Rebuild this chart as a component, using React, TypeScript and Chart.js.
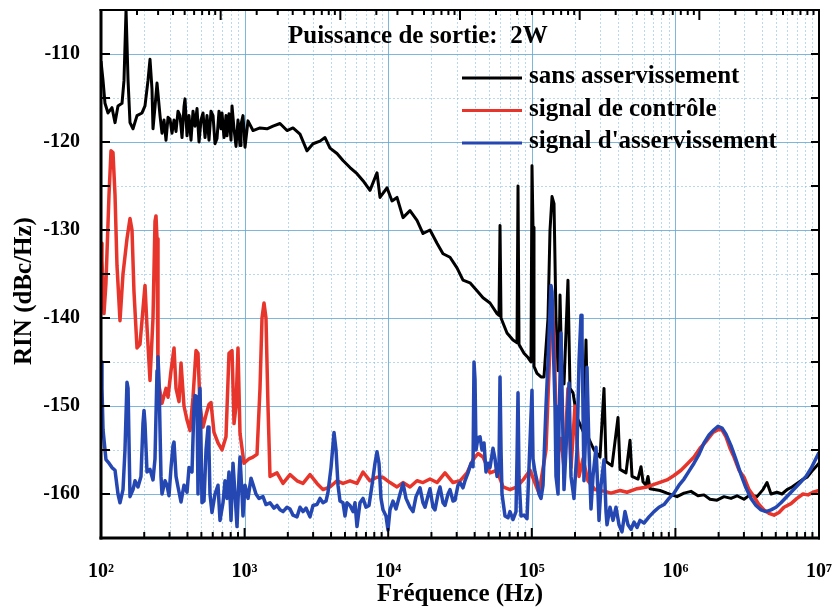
import React, { useEffect, useRef } from "react";
import { Chart, registerables } from "chart.js";

Chart.register(...registerables);

const FONT = '"Liberation Serif", "Times New Roman", Times, serif';

// ---- sans asservissement (black) ----
const blackFreq = [
  100, 103.3, 106.6, 111.9, 119.3, 125.2, 131.3, 140.1, 144.6, 149.4,
  154.3, 159.2, 167.1, 178.1, 193, 202.5, 212.5, 219.4, 226.5, 230.2,
  237.7, 245.5,
  257.6, 265.9, 274.6, 283.6, 292.9, 302.4, 312.2, 322.5, 333.0, 343.8,
  354.9, 366.6, 378.4, 384.6, 397.2, 410.1, 423.4, 437.3, 451.4, 466.3,
  481.4, 497.1, 513.3, 530.2, 547.3, 565.0, 583.4, 602.7, 622.2, 642.6,
  663.3, 685.1, 696.1, 718.7, 742.1, 754.2, 778.6, 804.2, 817.3, 843.9,
  871.4, 899.5, 929, 943.9, 974.7, 1006.5, 1056,
  1144, 1280, 1432, 1577, 1764, 1974,
  2173, 2431, 2720, 2995, 3350, 3630, 3933, 4400, 4844, 5420,
  6063, 6677, 7469, 8356, 8768, 9808, 10630, 11515, 12682, 14186,
  15873, 17472, 19549, 21871, 24077, 26937, 30134, 33180, 37116, 41530,
  45725, 51163, 57253, 59111, 60070, 61043, 67190, 73960, 78886, 80160,
  81460, 88240, 94080, 98720, 100320, 101950, 103590, 108700, 115900, 121600,
  129700, 133900, 138300, 142800, 147400, 152300, 154700, 157200, 162300, 167600,
  178600, 184500, 193600, 206400, 230900, 238400, 246200, 271200, 298500, 318300,
  328700, 361800, 398400, 411400, 452900, 483000, 498800, 549100, 576200, 594900,
  624200, 644600, 665600, 781400, 874100, 1026000, 1148000, 1284000, 1437000, 1582000,
  1742000, 1949000, 2180000, 2439000, 2685000, 3004000, 3307000, 3700000, 4074000, 4345000,
  4632000, 5099000, 5524000, 5987000, 6486000, 7029000, 7614000, 8250000, 8940000, 10000000,
];
const blackRin = [
  -110.8, -113, -115.6, -116.7, -116.1, -117.8, -115.9, -115.6, -113, -105,
  -113, -117.8, -118.5, -117, -116.7, -115.9, -113, -110.6, -114, -118.5,
  -116, -113.3,
  -117, -119, -117.5, -119.8, -117.2, -117.4, -119, -117.5, -118.8, -116.5,
  -117, -119.5, -116, -115.1, -119.3, -117, -119.8, -116.5, -118.2, -116.2,
  -120, -117.5, -116.7, -119.5, -117, -119.8, -116.5, -117, -120.2, -119.6,
  -116.5, -118.5, -116.7, -119.5, -117, -119.3, -116.8, -119.8, -115.9, -118.5,
  -120.5, -117.5, -120.4, -118, -117, -120.6, -117.6,
  -118.7, -118.4, -118.5, -118.2, -117.9, -118.7,
  -118.4, -119.1, -121, -120.2, -119.9, -119.5, -120.7, -121.3, -122.1, -122.9,
  -123.6, -124.4, -125.5, -123.5, -126.3, -125.2, -126.7, -126.3, -128.6, -127.8,
  -128.9, -130.4, -130, -131.5, -132.7, -133.1, -134.3, -135.7, -136, -136.9,
  -137.7, -138.3, -139.5, -139.7, -129.5, -140, -141.7, -142.5, -142.8, -125,
  -143, -144, -144.5, -145, -122.7, -129.7, -145.5, -146.3, -146.7, -146.7,
  -140, -130, -126.2, -127, -140, -146, -145, -137.4, -147, -147.5,
  -135.7, -148, -148.5, -151.3, -153.1, -142.5, -153.5, -155, -155.8, -148,
  -156.3, -156.8, -151.3, -157.2, -157.6, -153.9, -158, -158.3, -156.9, -158.6,
  -159, -158, -159.4, -159.6, -159.9, -160.3, -159.9, -159.7, -160.2, -160.1,
  -160.6, -160.7, -160.3, -160.5, -160.2, -160.6, -160.1, -160.3, -159.5, -158.7,
  -160, -159.8, -160, -159.5, -159.2, -158.8, -158.4, -158.1, -157.4, -156.5,
];

// ---- signal de contrôle (red) ----
const redFreq = [
  100, 101.6, 104.9, 108.3, 113.7, 117.4, 121.2, 125.2, 129.2, 135.6,
  142.3, 151.7, 159.2, 164.4, 169.7, 178.1, 186.8, 196, 202.5, 209.1,
  219.4, 230.2, 237.7, 241.5, 245.5, 249.4, 265.9, 283.6, 292.9, 307.3,
  322.5, 333, 349.3, 360.7, 378.4, 397.2, 416.7, 437.3, 458.8, 473.7,
  489.2, 513.3, 538.8, 565, 583.4, 612.1, 652.8, 696.1, 742.1, 778.6,
  817.3, 843.9, 871.4, 899.5, 929, 990.4, 1073, 1144, 1220, 1280,
  1322, 1365, 1409, 1455, 1503, 1681, 1851, 2071, 2317, 2551,
  2854, 3193, 3516, 3933, 4400, 4844, 5420, 6063, 6677, 7469,
  8356, 9200, 10292, 11515, 12682, 14186, 15873, 17472, 19549, 21871,
  24860, 28270, 31623, 35380, 38960, 42210, 45725, 51163, 57253, 63010,
  70500, 78886, 86840, 97160, 112200, 125600, 133900, 138300, 142800, 149800,
  159700, 167600, 178600, 187500, 199900, 213200, 227300, 246200, 275500, 323400,
  356000, 411400, 460300, 540400, 634200, 744600, 874100, 977900, 1094000, 1223000,
  1348000, 1484000, 1660000, 1827000, 1981000, 2111000, 2251000, 2400000, 2559000, 2773000,
  3004000, 3254000, 3527000, 3821000, 4140000, 4486000, 4861000, 5266000, 5706000, 6383000,
  7029000, 7737000, 8383000, 9083000, 10000000,
];
const redRin = [
  -131.5, -133.5, -139.5, -136, -126, -121, -121.2, -126, -134, -140.3,
  -135, -131, -128.7, -130, -137, -143.4, -143, -139, -136.3, -141,
  -147.1, -140, -129, -128.4, -131, -147, -149.7, -148, -149, -146,
  -143.4, -148, -149.5, -145.1, -150, -151.6, -152.8, -149, -143.7, -144,
  -150, -152.4, -151, -149.8, -149.6, -153, -154.2, -155, -153.5, -144,
  -143.7, -152, -150, -143.4, -153.1, -156.5, -156, -155.8, -155.5, -148,
  -140, -138.3, -140, -150, -158, -157.6, -158.8, -157.8, -158.5, -158.8,
  -157.8, -158.8, -159.5, -159.2, -158.5, -158.8, -158.5, -158.8, -157.5, -158.5,
  -158.1, -158.1, -158.7, -159.2, -158.7, -159.2, -158.5, -158.7, -158.3, -158.7,
  -157.6, -158.7, -158.5, -157.6, -156.1, -155.4, -155.8, -157.6, -157.3, -159.2,
  -159.5, -159.2, -158.4, -157.3, -159.9, -155, -143, -138, -142, -156,
  -153.7, -157, -148, -157, -150, -158, -156, -158.5, -159.5, -159.7,
  -159.9, -159.6, -159.8, -159.4, -159.2, -158.8, -158.4, -157.9, -157.3, -156.5,
  -155.8, -154.8, -153.9, -153, -152.7, -152.7, -153.5, -154.8, -155.8, -157.3,
  -158.1, -159.5, -160.3, -161.2, -161.8, -162.2, -162.4, -162.1, -161.5, -161.1,
  -160.5, -160, -160.1, -159.8, -159.6,
];

// ---- signal d'asservissement (blue) ----
const blueFreq = [
  100, 101.6, 103.3, 108.3, 113.7, 119.3, 125.2, 131.3, 135.6, 142.3,
  146.9, 151.7, 154.3, 159.2, 167.1, 172.5, 180.9, 189.9, 196, 199.3,
  202.5, 209.1, 219.4, 230.2, 237.7, 245.5, 249.4, 253.4, 261.7, 265.9,
  279.1, 288.2, 297.5, 307.3, 317.3, 322.5, 333, 343.8, 360.7, 378.4,
  397.2, 410.1, 430.2, 444.2, 451.4, 466.3, 473.7, 481.4, 489.2, 497.1,
  505.1, 521.6, 538.8, 556.3, 565, 574.1, 592.9, 622.2, 652.8, 674.2,
  707.3, 730.3, 754.2, 778.6, 804.2, 830.4, 857.5, 885.3, 914.2, 929,
  959.2, 974.7, 1006.5, 1056, 1108, 1144, 1200, 1260, 1343, 1409,
  1503, 1602, 1681, 1764, 1851, 1974, 2071, 2173, 2317, 2431,
  2551, 2677, 2854, 2995, 3193, 3350, 3516, 3689, 3809, 3998,
  4195, 4331, 4472, 4617, 4844, 5002, 5165, 5420, 5687, 5871,
  6063, 6364, 6677, 7004, 7350, 7712, 8092, 8356, 8628, 8910,
  9200, 9652, 9967, 10292, 10800, 11330, 12084, 12682, 13305, 14186,
  14883, 15616, 16656, 17472, 18044, 18932, 19549, 20512, 21180, 22230,
  22950, 24077, 24860, 26090, 26937, 28270, 29190, 30630, 31623, 33180,
  34260, 35960, 37730, 38960, 39590, 40230, 40880, 42210, 43590, 45010,
  46480, 47970, 49550, 51163, 53690, 55440, 57253, 59111, 60070, 61043,
  62020, 65080, 68280, 70500, 73960, 77620, 78886, 80160, 81460, 84100,
  88240, 92600, 95610, 100320, 101950, 105270, 108700, 112200, 115900, 119700,
  125600, 129700, 133900, 136100, 138300, 140500, 145100, 147400, 152300, 154700,
  159700, 162300, 167600, 173000, 181600, 187500, 196700, 206400, 213200, 220100,
  223600, 230900, 238400, 242300, 250200, 258400, 266800, 280000, 289100, 293800,
  303400, 318300, 328700, 334000, 350400, 367700, 385900, 404800, 424800, 445700,
  467700, 490800, 514900, 540400, 567000, 604500, 655000, 709600, 768900, 833000,
  902500, 977900, 1060000, 1148000, 1244000, 1348000, 1460000, 1582000, 1714000, 1857000,
  1981000, 2111000, 2251000, 2439000, 2642000, 2863000, 3101000, 3361000, 3641000, 3945000,
  4275000, 4632000, 5019000, 5437000, 5891000, 6383000, 6917000, 7494000, 8121000, 8799000,
  9378000, 10000000,
];
const blueRin = [
  -145, -148, -152.7, -156.1, -156.5, -157, -157.3, -160, -161, -159.5,
  -155, -147.3, -148, -160.3, -159.5, -158.5, -159.2, -158, -152, -150.5,
  -152, -157.5, -157.2, -158.4, -156, -146, -144.4, -147, -158, -160,
  -158.5, -159, -160.2, -157, -154.5, -154.1, -158, -159.2, -160.9, -159,
  -159.8, -157, -157.5, -150, -148.8, -149, -160, -149.5, -148, -154,
  -161, -160.8, -155, -152.4, -155, -160, -162.1, -160, -159, -163,
  -161, -158.5, -160.5, -157.5, -163, -156.5, -160, -163.7, -158, -155.8,
  -160, -162.5, -159, -160.5, -158.2, -158.9, -160, -160.5, -160.3, -161.2,
  -161, -161.6, -161.3, -161.8, -162, -161.5, -161.7, -162.4, -162.6, -161.5,
  -162, -161.6, -162.6, -161.3, -161.2, -160.5, -161, -160.8, -159.8, -157,
  -153, -155, -159, -160.8, -161, -162.5, -161, -161.3, -162, -161,
  -163.7, -161, -160.5, -161.5, -161.3, -159, -156.5, -155.2, -156.5, -160.5,
  -161.8, -162.5, -164.1, -161.8, -160.8, -161.7, -160, -158.8, -160.5, -161.5,
  -162, -160.3, -159.3, -161, -161.5, -160.2, -159.4, -161.5, -161.8, -160,
  -159.2, -161, -161.3, -160, -159.5, -160.8, -160.7, -159, -158.7, -159.3,
  -158.5, -157.6, -156.5, -156.9, -145, -147, -155, -153.6, -153.5, -155,
  -154.2, -157.5, -156.5, -157, -154.8, -156, -158, -157, -146.7, -155,
  -160, -162.5, -162.7, -162, -162.9, -162, -156, -148.5, -158, -162.5,
  -162.4, -162.8, -157, -148.2, -156, -157.5, -158.5, -160, -160.5, -159,
  -150, -145, -139, -136.3, -137, -142, -150, -158, -160, -152,
  -141.7, -148, -159.5, -155, -147.4, -158, -160.5, -155, -145, -139.7,
  -142, -158.5, -152, -145.6, -155, -161.7, -158, -154.7, -160, -163,
  -159, -156.1, -162, -163.5, -161.5, -163, -161.5, -163.5, -164.3, -162,
  -163.5, -164, -163.2, -163.8, -163, -163.3, -162.6, -162, -161.5, -161.2,
  -160.5, -159.9, -159, -158.3, -157.4, -156.5, -155.5, -154.2, -153.3, -152.7,
  -152.3, -152.5, -153.2, -154.5, -156.1, -157.8, -159.3, -160.5, -161.3, -161.8,
  -162, -161.8, -161.5, -161, -160.4, -159.8, -159.2, -158.6, -158, -157.1,
  -156.2, -155.3,
];

const seriesNames = ["sans asservissement", "signal de contrôle", "signal d'asservissement"];
const seriesColors = ["#000000", "#e8352b", "#2447b2"];
const chartTitle = "Puissance de sortie:  2W";
const xAxisTitle = "Fréquence (Hz)";
const yAxisTitle = "RIN (dBc/Hz)";

const xDecades = [1e2, 1e3, 1e4, 1e5, 1e6, 1e7];
const xDecadeLabels = ["10²", "10³", "10⁴", "10⁵", "10⁶", "10⁷"];
const topDecades = [1e1, 1e2, 1e3, 1e4, 1e5, 1e6, 1e7];
const minorMultipliers = [2, 3, 4, 5, 6, 7, 8, 9];
const yMajor = [-160, -150, -140, -130, -120, -110];
const yMinor = [-155, -145, -135, -125, -115];
const yTickMarks = [-160, -155, -150, -145, -140, -135, -130, -125, -120, -115, -110];

const GRID_MAJOR = "rgba(105,170,212,0.85)";
const GRID_MINOR = "rgba(125,185,225,0.55)";

const zeroPad = (s: any) => {
  s.paddingTop = 0;
  s.paddingBottom = 0;
  s.paddingLeft = 0;
  s.paddingRight = 0;
};

const decorPlugin = {
  id: "decor",
  beforeDatasetsDraw(chart: any) {
    const { ctx, chartArea: a, scales } = chart;
    const xs = scales.x;
    const ys = scales.y;
    const vline = (px: number) => {
      ctx.beginPath();
      ctx.moveTo(px, a.top);
      ctx.lineTo(px, a.bottom);
      ctx.stroke();
    };
    const hline = (py: number) => {
      ctx.beginPath();
      ctx.moveTo(a.left, py);
      ctx.lineTo(a.right, py);
      ctx.stroke();
    };
    ctx.save();
    ctx.lineWidth = 1;
    ctx.strokeStyle = GRID_MINOR;
    ctx.setLineDash([2, 2]);
    for (let i = 0; i < xDecades.length - 1; i++) {
      for (const m of minorMultipliers) vline(Math.round(xs.getPixelForValue(xDecades[i] * m)) + 0.5);
    }
    for (const v of yMinor) hline(Math.round(ys.getPixelForValue(v)) + 0.5);
    ctx.setLineDash([]);
    ctx.strokeStyle = GRID_MAJOR;
    for (const d of xDecades) {
      if (d > xs.min && d < xs.max) vline(Math.round(xs.getPixelForValue(d)) + 0.5);
    }
    for (const v of yMajor) hline(Math.round(ys.getPixelForValue(v)) + 0.5);
    ctx.restore();
  },
  afterDatasetsDraw(chart: any) {
    const { ctx, chartArea: a, scales } = chart;
    const xs = scales.x;
    const ys = scales.y;
    const xt = scales.xTop;
    ctx.save();
    ctx.strokeStyle = "#000";
    ctx.lineCap = "butt";
    const seg = (x1: number, y1: number, x2: number, y2: number, w: number) => {
      ctx.lineWidth = w;
      ctx.beginPath();
      ctx.moveTo(x1, y1);
      ctx.lineTo(x2, y2);
      ctx.stroke();
    };
    // frame
    seg(a.left - 1.5, a.top, a.right + 1, a.top, 2);
    seg(a.right, a.top, a.right, a.bottom + 1.5, 2);
    seg(a.left, a.top - 1, a.left, a.bottom + 1.5, 3);
    seg(a.left - 1.5, a.bottom, a.right + 1, a.bottom, 3);
    // bottom ticks (inward)
    for (let i = 0; i < xDecades.length; i++) {
      const px = xs.getPixelForValue(xDecades[i]);
      seg(px, a.bottom, px, a.bottom - 10, 2);
      if (i < xDecades.length - 1) {
        for (const m of minorMultipliers) {
          const p = xs.getPixelForValue(xDecades[i] * m);
          seg(p, a.bottom, p, a.bottom - 6, 2);
        }
      }
    }
    // top ticks from the secondary (top) log axis
    for (let i = 0; i < topDecades.length; i++) {
      const px = xt.getPixelForValue(topDecades[i]);
      seg(px, a.top, px, a.top + 10, 2);
      if (i < topDecades.length - 1) {
        for (const m of minorMultipliers) {
          const p = xt.getPixelForValue(topDecades[i] * m);
          seg(p, a.top, p, a.top + 5, 2);
        }
      }
    }
    // left / right ticks
    for (const v of yTickMarks) {
      const py = ys.getPixelForValue(v);
      seg(a.left, py, a.left + 9, py, 2);
      seg(a.right, py, a.right - 8, py, 2);
    }
    // title inside plot
    ctx.fillStyle = "#000";
    ctx.font = `bold 25px ${FONT}`;
    ctx.textAlign = "left";
    ctx.textBaseline = "middle";
    ctx.fillText(chartTitle, a.left + 187, a.top + 27);
    // legend
    for (let i = 0; i < seriesNames.length; i++) {
      const ly = a.top + 68 + i * 32.5;
      ctx.strokeStyle = seriesColors[i];
      seg(a.left + 361, ly, a.left + 421, ly, 3);
      ctx.fillText(seriesNames[i], a.left + 428, ly - 1);
    }
    // y-axis title
    ctx.translate(25, (a.top + a.bottom) / 2 + 17);
    ctx.rotate(-Math.PI / 2);
    ctx.textAlign = "center";
    ctx.fillText(yAxisTitle, 0, 0);
    ctx.restore();
  },
};

export default function App() {
  const canvasRef = useRef<HTMLCanvasElement | null>(null);

  useEffect(() => {
    if (!canvasRef.current) return;
    const mk = (fs: number[], vs: number[]) => fs.map((f, i) => ({ x: f, y: vs[i] }));
    const base = {
      pointRadius: 0,
      tension: 0,
      borderJoinStyle: "round" as const,
      fill: false,
    };
    const chart = new Chart(canvasRef.current, {
      type: "line",
      data: {
        datasets: [
          { ...base, label: seriesNames[0], data: mk(blackFreq, blackRin), borderColor: seriesColors[0], borderWidth: 3, order: 3 },
          { ...base, label: seriesNames[1], data: mk(redFreq, redRin), borderColor: seriesColors[1], borderWidth: 3.5, order: 2 },
          { ...base, label: seriesNames[2], data: mk(blueFreq, blueRin), borderColor: seriesColors[2], borderWidth: 3.5, order: 1 },
        ],
      },
      options: {
        animation: false,
        responsive: false,
        maintainAspectRatio: false,
        layout: { padding: { top: 10, right: 15, left: 0, bottom: 0 } },
        plugins: { legend: { display: false }, tooltip: { enabled: false } },
        scales: {
          x: {
            type: "logarithmic",
            position: "bottom",
            min: 100,
            max: 1e7,
            afterBuildTicks: (s: any) => {
              s.ticks = xDecades.map((v) => ({ value: v }));
            },
            afterFit: (s: any) => {
              s.height = 69;
              zeroPad(s);
            },
            grid: { display: false },
            border: { display: false },
            ticks: {
              autoSkip: false,
              maxRotation: 0,
              padding: 14,
              color: "#000",
              font: { family: FONT, size: 20, weight: "bold" },
              callback: (v: any) => {
                const i = xDecades.indexOf(Number(v));
                return i >= 0 ? xDecadeLabels[i] : "";
              },
            },
            title: {
              display: true,
              text: xAxisTitle,
              color: "#000",
              font: { family: FONT, size: 25, weight: "bold", lineHeight: 1 },
              padding: { top: 0, bottom: 0 },
            },
          },
          xTop: {
            type: "logarithmic",
            position: "top",
            min: 10,
            max: 1e7,
            afterFit: (s: any) => {
              s.height = 0;
              zeroPad(s);
            },
            grid: { display: false },
            border: { display: false },
            ticks: { display: false },
          },
          y: {
            type: "linear",
            min: -165,
            max: -105,
            afterBuildTicks: (s: any) => {
              s.ticks = yMajor.map((v) => ({ value: v }));
            },
            afterFit: (s: any) => {
              s.width = 101;
              zeroPad(s);
            },
            grid: { display: false },
            border: { display: false },
            ticks: {
              padding: 13,
              color: "#000",
              font: { family: FONT, size: 20, weight: "bold" },
              callback: (v: any) => String(v),
            },
          },
        },
      },
      plugins: [decorPlugin],
    } as any);
    return () => chart.destroy();
  }, []);

  return (
    <div style={{ position: "fixed", left: 0, top: 0, width: 834, height: 607, background: "#fff" }}>
      <canvas ref={canvasRef} width={834} height={607} style={{ display: "block" }} />
    </div>
  );
}
